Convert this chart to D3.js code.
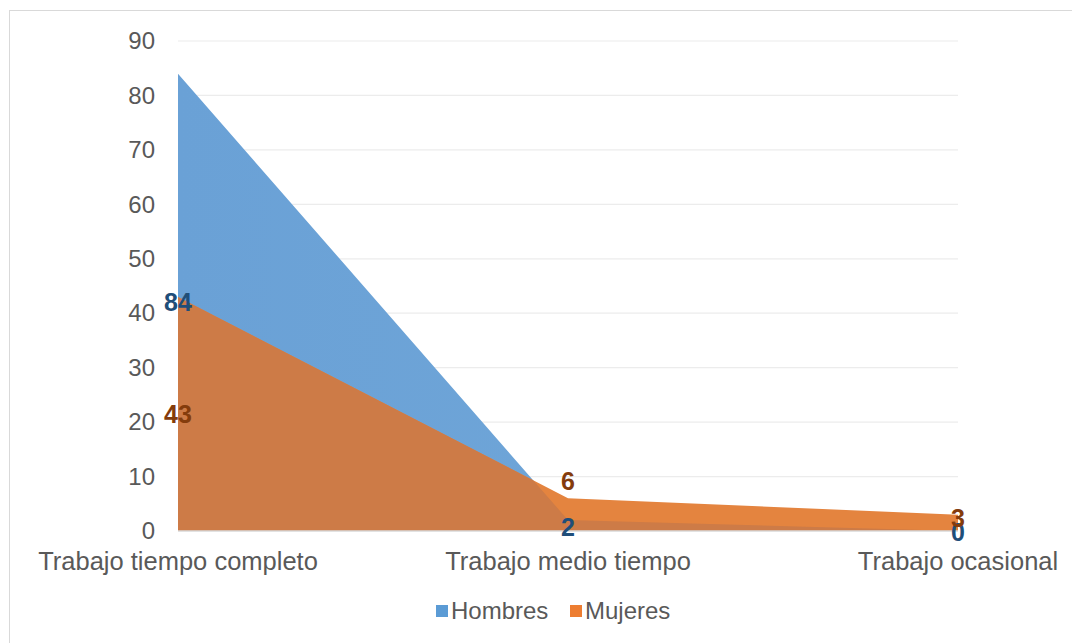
<!DOCTYPE html>
<html>
<head>
<meta charset="utf-8">
<script src="https://cdn.jsdelivr.net/npm/d3@7"></script>
<style>
  body { margin: 0; background: #fff; }
  text { font-family: "Liberation Sans", Arial, sans-serif; }
</style>
</head>
<body>
<div id="chart"></div>
<script>
// data
let categories = ["Trabajo tiempo completo", "Trabajo medio tiempo", "Trabajo ocasional"];
let hombres = [84, 2, 0];
let mujeres = [43, 6, 3];
let yTicks = [0, 10, 20, 30, 40, 50, 60, 70, 80, 90];

let W = 1072, H = 643;
let margin = {top: 41, right: 114, bottom: 112, left: 178},
    width = W - margin.left - margin.right,
    height = H - margin.top - margin.bottom;

let svg = d3.select("#chart").append("svg")
    .attr("width", W)
    .attr("height", H);

// outer frame
svg.append("rect")
    .attr("x", 9.5).attr("y", 10.5)
    .attr("width", W + 20).attr("height", H + 20)
    .attr("fill", "none")
    .attr("stroke", "#d9d9d9");

let g = svg.append("g")
    .attr("transform", "translate(" + margin.left + "," + margin.top + ")");

let x = d3.scalePoint().domain(categories).range([0, width]);
let y = d3.scaleLinear().domain([0, 90]).range([height, 0]);

// gridlines
g.selectAll(".grid").data(yTicks.slice(1)).enter()
    .append("line")
    .attr("x1", 0).attr("x2", width)
    .attr("y1", d => y(d)).attr("y2", d => y(d))
    .attr("stroke", "#ececec")
    .attr("stroke-width", 1.2);

// y axis labels
let yAxis = g.append("g")
    .call(d3.axisLeft(y).tickValues(yTicks).tickSize(0).tickPadding(23));
yAxis.select(".domain").remove();
yAxis.selectAll("text")
    .attr("font-size", 24)
    .attr("fill", "#595959")
    .attr("font-family", "Liberation Sans, Arial, sans-serif");

let area = d3.area()
    .x((d, i) => x(categories[i]))
    .y0(y(0))
    .y1(d => y(d));

let defs = svg.append("defs");
defs.append("clipPath").attr("id", "clipBlue")
    .append("path").attr("d", area(hombres));

let gradBlue = defs.append("linearGradient").attr("id", "gBlue")
    .attr("x1", 0).attr("x2", 1).attr("y1", 0).attr("y2", 0);
gradBlue.append("stop").attr("offset", "0%").attr("stop-color", "#6aa1d6");
gradBlue.append("stop").attr("offset", "100%").attr("stop-color", "#72a8d9");

// hombres
g.append("path")
    .attr("d", area(hombres))
    .attr("fill", "url(#gBlue)");

// mujeres
g.append("path")
    .attr("d", area(mujeres))
    .attr("fill", "#e4843f");

// overlap region looks darker
g.append("path")
    .attr("d", area(mujeres))
    .attr("clip-path", "url(#clipBlue)")
    .attr("fill", "#cd7b47");

// baseline
g.append("line")
    .attr("x1", 0).attr("x2", width)
    .attr("y1", y(0)).attr("y2", y(0))
    .attr("stroke", "#d9d9d9")
    .attr("stroke-width", 1.5);

// category labels
g.selectAll(".cat").data(categories).enter()
    .append("text")
    .attr("x", d => x(d))
    .attr("y", height + 39)
    .attr("text-anchor", "middle")
    .attr("font-size", 25.5)
    .attr("fill", "#595959")
    .text(d => d);

// data labels
function labelY(v, i, isTop) {
    if (i === 0) return y(v / 2);
    if (i === 1) return isTop ? y(v) - 17 : y(v) + 7;
    return isTop ? y(v) + 3 : y(v) + 1;
}

g.selectAll(".lblH").data(hombres).enter()
    .append("text")
    .attr("x", (d, i) => x(categories[i]))
    .attr("y", (d, i) => labelY(d, i, d > mujeres[i]))
    .attr("dy", "0.36em")
    .attr("text-anchor", "middle")
    .attr("font-size", 25)
    .attr("font-weight", "bold")
    .attr("fill", "#1f4e79")
    .text(d => d);

g.selectAll(".lblM").data(mujeres).enter()
    .append("text")
    .attr("x", (d, i) => x(categories[i]))
    .attr("y", (d, i) => labelY(d, i, d > hombres[i]))
    .attr("dy", "0.36em")
    .attr("text-anchor", "middle")
    .attr("font-size", 25)
    .attr("font-weight", "bold")
    .attr("fill", "#843c0c")
    .text(d => d);

// legend
let legend = svg.append("g").attr("transform", "translate(436,611)");
let legendItems = [{name: "Hombres", color: "#5b9bd5", dx: 0}, {name: "Mujeres", color: "#ed7d31", dx: 134}];
legendItems.forEach(function (item) {
    legend.append("rect")
        .attr("x", item.dx).attr("y", -6)
        .attr("width", 12).attr("height", 12)
        .attr("fill", item.color);
    legend.append("text")
        .attr("x", item.dx + 15).attr("y", 0)
        .attr("dy", "0.35em")
        .attr("font-size", 24)
        .attr("fill", "#595959")
        .text(item.name);
});
</script>
</body>
</html>
